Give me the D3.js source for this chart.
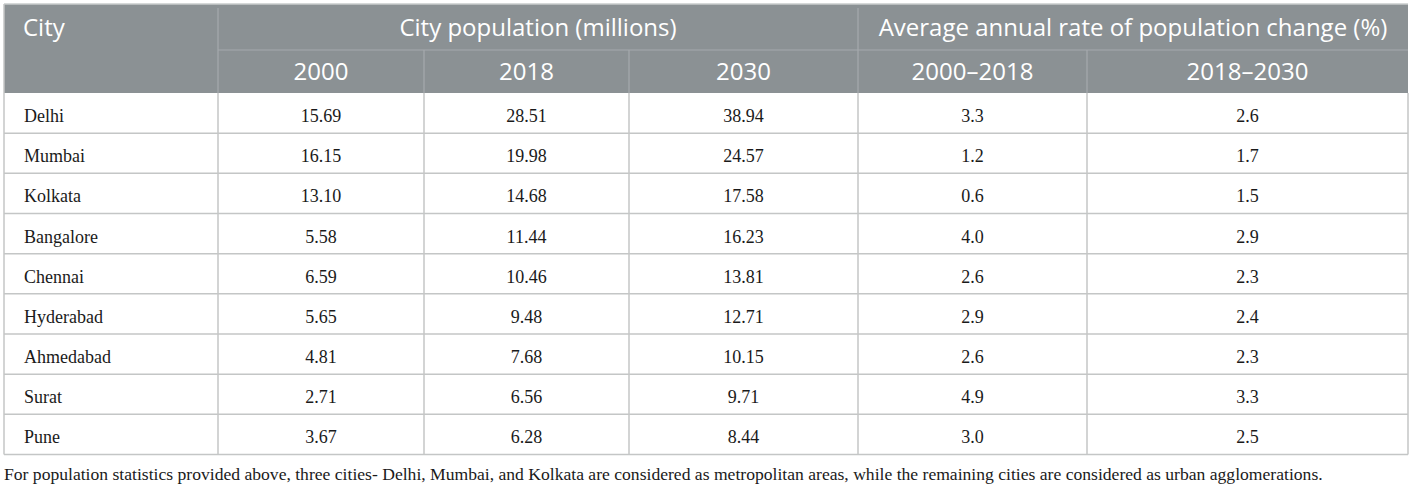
<!DOCTYPE html>
<html>
<head>
<meta charset="utf-8">
<script src="https://cdn.jsdelivr.net/npm/d3@7"></script>
<style>
html,body{margin:0;padding:0;background:#fff;}
svg{display:block;}
</style>
</head>
<body>
<svg id="chart" width="1414" height="488"></svg>
<script>
const cities = ["Delhi","Mumbai","Kolkata","Bangalore","Chennai","Hyderabad","Ahmedabad","Surat","Pune"];
const pop2000 = [15.69,16.15,13.10,5.58,6.59,5.65,4.81,2.71,3.67];
const pop2018 = [28.51,19.98,14.68,11.44,10.46,9.48,7.68,6.56,6.28];
const pop2030 = [38.94,24.57,17.58,16.23,13.81,12.71,10.15,9.71,8.44];
const rate2000_2018 = [3.3,1.2,0.6,4.0,2.6,2.9,2.6,4.9,3.0];
const rate2018_2030 = [2.6,1.7,1.5,2.9,2.3,2.4,2.3,3.3,2.5];
const groupHeaders = ["City","City population (millions)","Average annual rate of population change (%)"];
const subHeaders = ["2000","2018","2030","2000\u20132018","2018\u20132030"];
const footnote = "For population statistics provided above, three cities- Delhi, Mumbai, and Kolkata are considered as metropolitan areas, while the remaining cities are considered as urban agglomerations.";

const colKeys = ["city","p2000","p2018","p2030","r1","r2"];
const colEdges = [4,218,424,629,858,1087,1408];
const xEdge = d3.scaleOrdinal().domain(colKeys.concat(["end"])).range(colEdges);
const colLeft = k => xEdge(k);
const colRight = k => xEdge(colKeys.concat(["end"])[colKeys.indexOf(k)+1]);
const colMid = k => (colLeft(k)+colRight(k))/2;

const headTop = 4, headMid = 50, headBottom = 93, tableBottom = 454.5;
const y = d3.scaleBand().domain(cities).range([headBottom, tableBottom]);

const headerFill = "#8b9194";
const headerLine = "#a6aaad";
const gridLine = "#c4c6c6";
const headFont = "'Open Sans', sans-serif";
const bodyFont = "'Liberation Serif', 'Times New Roman', serif";

const svg = d3.select("#chart");

// header background
svg.append("rect").attr("x", colEdges[0]).attr("y", headTop)
  .attr("width", colEdges[6]-colEdges[0]).attr("height", headBottom-headTop)
  .attr("fill", headerFill);
// header top line
svg.append("line").attr("x1", colEdges[0]).attr("x2", colEdges[6]).attr("y1", headTop).attr("y2", headTop)
  .attr("stroke", "#c9cccc").attr("stroke-width", 1.5);

// header internal lines
const hl = svg.append("g").attr("stroke", headerLine).attr("stroke-width", 1.2);
hl.append("line").attr("x1", colRight("city")).attr("x2", colRight("city")).attr("y1", headTop+4).attr("y2", headBottom);
hl.append("line").attr("x1", colRight("p2030")).attr("x2", colRight("p2030")).attr("y1", headTop+4).attr("y2", headBottom);
hl.append("line").attr("x1", colRight("city")).attr("x2", colEdges[6]).attr("y1", headMid).attr("y2", headMid);
["p2000","p2018","r1"].forEach(k=>{
  hl.append("line").attr("x1", colRight(k)).attr("x2", colRight(k)).attr("y1", headMid).attr("y2", headBottom);
});

// header text
const ht = svg.append("g").attr("fill", "#ffffff").attr("font-family", headFont).attr("font-size", 24);
ht.append("text").attr("x", 23).attr("y", 36).text(groupHeaders[0]);
ht.append("text").attr("x", (colLeft("p2000")+colRight("p2030"))/2).attr("y", 36).attr("text-anchor","middle").text(groupHeaders[1]);
ht.append("text").attr("x", (colLeft("r1")+colRight("r2"))/2).attr("y", 36).attr("text-anchor","middle").text(groupHeaders[2]);
["p2000","p2018","p2030","r1","r2"].forEach((k,i)=>{
  ht.append("text").attr("x", colMid(k)).attr("y", 80).attr("text-anchor","middle").text(subHeaders[i]);
});

// body grid
const grid = svg.append("g").attr("stroke", gridLine).attr("stroke-width", 1.5);
cities.forEach(c=>{
  grid.append("line").attr("x1", colEdges[0]).attr("x2", colEdges[6])
    .attr("y1", y(c)+y.bandwidth()).attr("y2", y(c)+y.bandwidth());
});
colEdges.forEach(xv=>{
  grid.append("line").attr("x1", xv).attr("x2", xv).attr("y1", headBottom).attr("y2", tableBottom);
});
// left outline through header
grid.append("line").attr("x1", colEdges[0]).attr("x2", colEdges[0]).attr("y1", headTop).attr("y2", headBottom);

// body text
const cols = {p2000: pop2000.map(v=>v.toFixed(2)), p2018: pop2018.map(v=>v.toFixed(2)), p2030: pop2030.map(v=>v.toFixed(2)),
  r1: rate2000_2018.map(v=>v.toFixed(1)), r2: rate2018_2030.map(v=>v.toFixed(1))};
const bt = svg.append("g").attr("fill", "#1a1a1a").attr("font-family", bodyFont).attr("font-size", 18);
cities.forEach((c,i)=>{
  const yy = y(c)+y.bandwidth()/2+9;
  bt.append("text").attr("x", 24).attr("y", yy).text(c);
  Object.keys(cols).forEach(k=>{
    bt.append("text").attr("x", colMid(k)).attr("y", yy).attr("text-anchor","middle").text(cols[k][i]);
  });
});

// footnote
svg.append("text").attr("x", 4).attr("y", 480).attr("font-family", bodyFont).attr("font-size", 17.6)
  .attr("fill", "#1a1a1a").text(footnote);
</script>
</body>
</html>
